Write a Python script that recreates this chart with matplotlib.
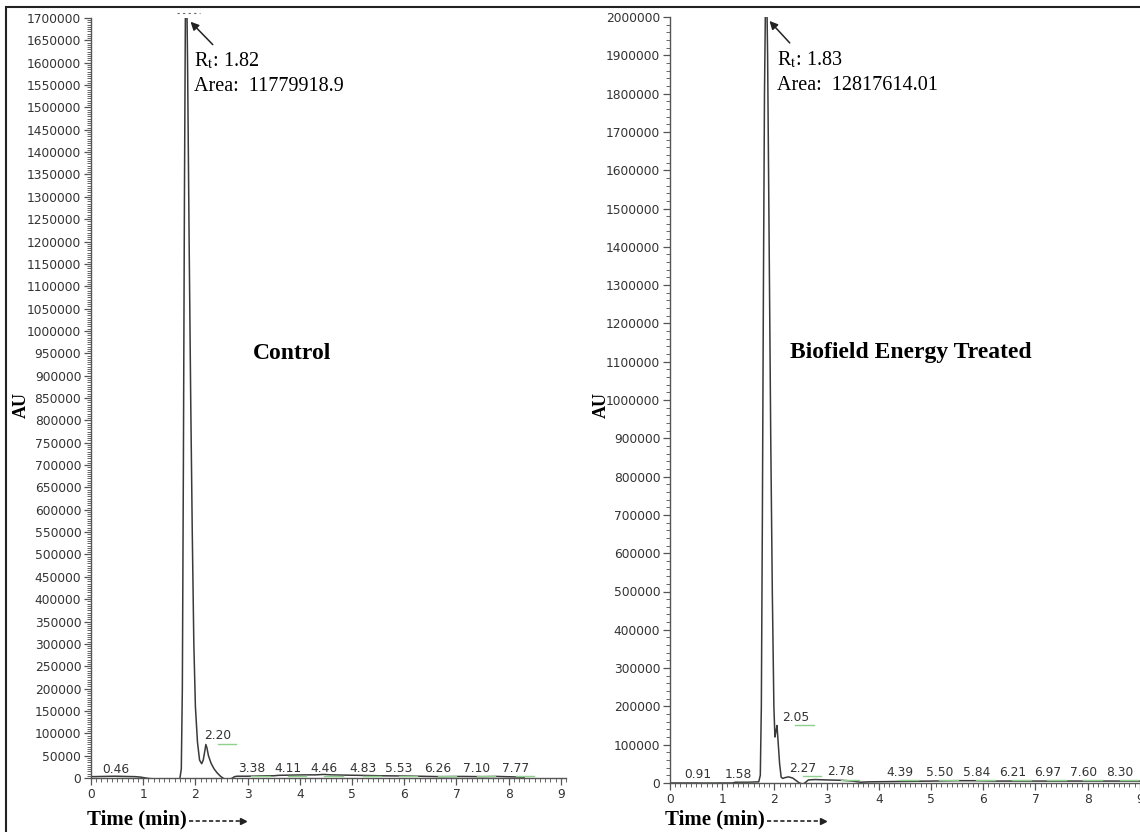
import matplotlib
matplotlib.use("Agg")
import matplotlib.pyplot as plt
from matplotlib.lines import Line2D
from matplotlib.patches import Rectangle
from matplotlib.ticker import MultipleLocator
import matplotlib.transforms as mtransforms

plt.rcParams['mathtext.fontset'] = 'stix'

# control trace (time in min, response in AU)
ctrl_t = [0, 0.46, 0.85, 0.95, 1.1, 1.3, 1.5, 1.70, 1.73, 1.75, 1.77, 1.79, 1.81,
          1.83, 1.85, 1.88, 1.91, 1.94, 1.97, 2.00, 2.04, 2.08, 2.12, 2.15, 2.18,
          2.20, 2.22, 2.25, 2.30, 2.36, 2.42, 2.48, 2.55, 2.62, 2.68, 2.75, 2.80,
          3.0, 3.38, 3.5, 3.6, 4.11, 4.3, 4.46, 4.6, 4.83, 5.1, 5.53, 6.0, 6.26,
          6.7, 7.10, 7.5, 7.77, 8.1, 8.3]
ctrl_y = [3000, 4000, 3000, 2000, -1000, -3000, -3000, -3000, 20000, 200000,
          700000, 1300000, 1750000, 1800000, 1600000, 1200000, 850000, 550000,
          300000, 160000, 80000, 40000, 32000, 40000, 60000, 75000, 68000, 50000,
          33000, 20000, 11000, 4000, -2000, -4000, -2000, 3000, 4000, 4000, 5000,
          5000, 6000, 7000, 7000, 8000, 7000, 6500, 6000, 5000, 4500, 4000, 3000,
          3500, 3000, 3500, 2500, 2000]
ctrl_peaks = ["0.46", "2.20", "3.38", "4.11", "4.46", "4.83", "5.53", "6.26", "7.10", "7.77"]
ctrl_lab_x = [0.48, 2.43, 3.07, 3.77, 4.47, 5.21, 5.90, 6.65, 7.39, 8.14]
ctrl_lab_y = [18000, 94000, 22000, 22000, 22000, 22000, 22000, 22000, 22000, 22000]

# biofield energy treated trace
trt_t = [0, 0.5, 1.0, 1.2, 1.25, 1.5, 1.70, 1.73, 1.75, 1.77, 1.79, 1.81, 1.83,
         1.85, 1.87, 1.90, 1.93, 1.96, 1.99, 2.01, 2.03, 2.05, 2.07, 2.10, 2.13,
         2.16, 2.20, 2.27, 2.35, 2.42, 2.48, 2.55, 2.60, 2.65, 2.78, 3.0, 3.3,
         3.5, 3.65, 3.8, 4.39, 5.0, 5.5, 5.84, 6.21, 6.97, 7.60, 8.30, 9.0]
trt_y = [0, 0, 0, 0, 2000, 2000, 3000, 20000, 200000, 700000, 1300000, 1800000,
         2050000, 2100000, 1900000, 1400000, 900000, 500000, 200000, 120000,
         135000, 150000, 110000, 50000, 15000, 12000, 14000, 16000, 13000, 6000,
         0, -3000, 2000, 8000, 9000, 8000, 7000, 5000, 2000, 3000, 4000, 5000,
         6000, 6000, 5000, 5000, 5000, 5000, 5000]
trt_peaks = ["0.91", "1.58", "2.05", "2.27", "2.78", "4.39", "5.50", "5.84", "6.21", "6.97", "7.60", "8.30"]
trt_lab_x = [0.54, 1.31, 2.40, 2.54, 3.27, 4.40, 5.16, 5.87, 6.56, 7.23, 7.92, 8.62]
trt_lab_y = [22000, 22000, 172000, 38000, 30000, 28000, 28000, 28000, 28000, 28000, 28000, 28000]

W, H = 1140, 832
fig = plt.figure(figsize=(W / 100, H / 100), dpi=100)


def px(x, y):
    return x / W, 1 - y / H


def panel(rect, t, y, ymax, major, minor, peaks, lab_x, lab_y, title, title_xy,
          rt, area, arrow, note_xy):
    ax = fig.add_axes(rect)
    ax.plot(t, y, color='#3a3a3a', lw=1.1)
    for s in ['top', 'right']:
        ax.spines[s].set_visible(False)
    for s in ['left', 'bottom']:
        ax.spines[s].set_color('#555555')
        ax.spines[s].set_linewidth(1.0)
    ax.xaxis.set_major_locator(MultipleLocator(1))
    ax.xaxis.set_minor_locator(MultipleLocator(0.1))
    ax.yaxis.set_major_locator(MultipleLocator(major))
    ax.yaxis.set_minor_locator(MultipleLocator(minor))
    ax.tick_params(which='major', length=5, width=0.9, color='#555555',
                   labelsize=8.8, labelcolor='#333333', pad=2)
    ax.tick_params(which='minor', length=3, width=0.7, color='#666666')
    ax.set_xticks(range(10))
    ax.set_xticklabels([str(i) for i in range(10)])
    ax.set_ylim(0, ymax)
    ax.set_yticklabels([str(int(v)) for v in ax.get_yticks()])
    ax.set_ylim(0, ymax)
    ax.set_xlim(0, 9.1)

    low = mtransforms.offset_copy(ax.transData, fig=fig, y=-8, units='dots')
    for name, lx, ly in zip(peaks, lab_x, lab_y):
        ax.text(lx, ly, name, ha='center', va='center', fontsize=8.8,
                color='#333333')
        ax.plot([lx, lx + 0.35], [ly, ly], color='#8fd08f', lw=1,
                transform=low)

    ax.text(title_xy[0], title_xy[1], title, fontsize=17, fontweight='bold',
            family='Liberation Serif', ha='center', va='center')
    ax.annotate('', xy=arrow[0], xytext=arrow[1],
                arrowprops=dict(arrowstyle='-|>', color='#222222', lw=1.1,
                                mutation_scale=12))
    ax.text(note_xy[0], note_xy[1], r"R$_\mathrm{t}$: " + rt, fontsize=14.5,
            family='Liberation Serif', ha='left', va='center')
    ax.text(note_xy[0], note_xy[2], "Area:  " + area, fontsize=14.5,
            family='Liberation Serif', ha='left', va='center')
    return ax


ax1 = panel([91 / W, 1 - 778 / H, 475 / W, 760 / H], ctrl_t, ctrl_y, 1700000,
            50000, 5000, ctrl_peaks, ctrl_lab_x, ctrl_lab_y, "Control",
            (3.85, 950000), "1.82", "11779918.9",
            ((1.87, 1696000), (2.37, 1636000)), (1.97, 1605000, 1547000))
# clipped label at the top of the control peak
ax1.plot([1.65, 2.09], [1712000, 1712000], color='#666666', lw=0.8,
         ls=(0, (2, 3)), clip_on=False)

ax2 = panel([670 / W, 1 - 783 / H, 475 / W, 766 / H], trt_t, trt_y, 2000000,
            100000, 20000, trt_peaks, trt_lab_x, trt_lab_y,
            "Biofield Energy Treated", (4.62, 1125000), "1.83", "12817614.01",
            ((1.87, 1995000), (2.33, 1927000)), (2.05, 1888000, 1822000))

# axis titles
for x in (21, 601):
    fig.text(*px(x, 405), "AU", rotation=90, fontsize=13, fontweight='bold',
             family='Liberation Serif', ha='center', va='center')

for x0, x1 in ((87, 243), (665, 823)):
    fig.text(*px(x0, 819), "Time (min)", fontsize=15, fontweight='bold',
             family='Liberation Serif', ha='left', va='center')
    xa, ya = px(x0 + 102, 821)
    xb, yb = px(x1, 821)
    fig.add_artist(Line2D([xa, xb], [ya, yb], color='#222222', lw=1.2,
                          ls=(0, (2.5, 1.5)), transform=fig.transFigure))
    fig.add_artist(Line2D([xb], [yb], marker='>', markersize=5, color='#222222',
                          transform=fig.transFigure))

# outer frame
fig.add_artist(Rectangle(px(6, 850), 1.2, (850 - 7) / H, fill=False,
                         edgecolor='#222222', lw=1.5, transform=fig.transFigure))

fig.savefig("out.png", dpi=100)
